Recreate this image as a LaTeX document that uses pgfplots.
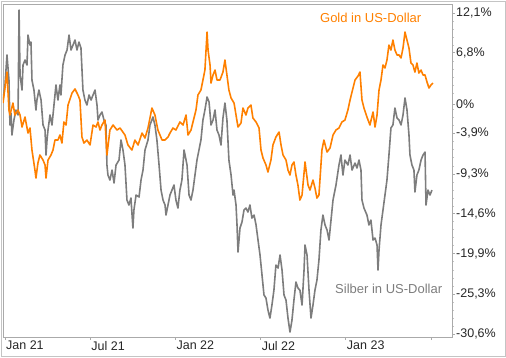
\documentclass[border=0pt]{standalone}
\usepackage{pgfplots}
\pgfplotsset{compat=1.18}
\usepackage{fontspec}
\setmainfont{Liberation Sans}
\definecolor{goldc}{RGB}{255,128,0}
\definecolor{silverc}{RGB}{125,125,125}
\definecolor{framec}{RGB}{170,170,170}
\begin{document}
\begin{tikzpicture}
\useasboundingbox (0,0) rectangle (506pt,357pt);
\draw[framec!70, line width=0.8pt] (1pt,1pt) rectangle (505pt,356pt);
\begin{axis}[
  at={(3pt,20pt)}, anchor=south west,
  scale only axis, width=449pt, height=333pt,
  xmin=-0.14, xmax=31.48, ymin=-30.98, ymax=13.30,
  axis line style={framec, line width=0.8pt},
  xtick={0,6,12,18,24,30},
  xticklabels={Jan 21,Jul 21,Jan 22,Jul 22,Jan 23,{}},
  xtick pos=bottom, ytick pos=right, yticklabel pos=right,
  tick align=outside,
  major tick length=3pt, minor tick length=2pt,
  tick style={framec, line width=0.8pt},
  minor tick style={framec!70, line width=0.6pt},
  ytick={12.1,6.8,0,-3.9,-9.3,-14.6,-19.9,-25.3,-30.6},
  yticklabels={{12,1\%},{6,8\%},{0\%},{-3,9\%},{-9,3\%},{-14,6\%},{-19,9\%},{-25,3\%},{-30,6\%}},
  minor ytick={-29.54,-28.48,-27.42,-26.36,-24.22,-23.14,-22.06,-20.98,-18.84,-17.78,-16.72,-15.66,-13.54,-12.48,-11.42,-10.36,-8.22,-7.14,-6.06,-4.98,-2.84,-1.78,-0.72,1.4,2.46,3.52,4.58,5.64,7.86,8.92,9.98,11.04},
  ticklabel style={font=\fontsize{12.5}{14}\selectfont, text=black!85},
  yticklabel style={anchor=west, inner sep=1pt},
  xticklabel style={anchor=north west, inner sep=1pt, xshift=0pt},
  clip=true,
]
\addplot[silverc, line width=1.6pt, line join=round] coordinates {
(-0.14,0.53) (0.00,2.53) (0.14,6.52) (0.28,3.19) (0.35,-2.79) (0.42,-1.20) (0.49,-4.12) (0.63,-2.13) (0.77,-0.80) (0.92,-1.46)
(0.99,12.50) (1.06,3.86) (1.20,1.86) (1.27,5.19) (1.41,5.85) (1.55,5.19) (1.62,9.17) (1.76,7.84) (1.83,8.24) (1.90,3.19)
(2.04,1.86) (2.18,-0.80) (2.25,0.53) (2.39,1.86) (2.54,0.53) (2.68,-2.79) (2.82,-3.46) (2.89,-6.78) (2.96,-4.79) (3.03,-3.46)
(3.17,-1.46) (3.31,-2.79) (3.45,-0.13) (3.59,2.53) (3.73,0.53) (3.87,2.53) (3.94,1.20) (4.08,5.19) (4.23,6.52) (4.37,7.18)
(4.51,9.17) (4.65,7.18) (4.79,7.84) (4.93,8.51) (5.07,7.18) (5.21,8.24) (5.35,7.45) (5.49,1.86) (5.63,0.53) (5.77,-0.13)
(5.92,1.20) (6.06,0.53) (6.20,1.20) (6.34,1.86) (6.48,-0.13) (6.55,-2.13) (6.69,-1.46) (6.83,-1.06) (6.97,-2.13) (7.11,-2.79)
(7.18,-8.11) (7.25,-9.44) (7.39,-10.11) (7.54,-8.78) (7.68,-10.50) (7.82,-8.11) (8.03,-7.45) (8.17,-4.79) (8.31,-6.12) (8.45,-8.11)
(8.59,-12.77) (8.73,-13.43) (8.87,-12.50) (9.01,-16.49) (9.08,-14.10) (9.23,-12.10) (9.44,-12.37) (9.58,-10.11) (9.72,-8.78) (9.86,-6.12)
(10.07,-4.79) (10.21,-2.79) (10.42,-1.73) (10.56,-2.79) (10.70,-4.79) (10.85,-8.11) (10.99,-11.44) (11.13,-12.77) (11.27,-13.43) (11.34,-14.76)
(11.48,-13.43) (11.62,-12.10) (11.76,-11.44) (11.90,-10.77) (12.04,-12.77) (12.18,-13.83) (12.32,-11.44) (12.46,-10.11) (12.61,-6.12) (12.68,-6.78)
(12.82,-8.11) (12.96,-12.10) (13.10,-12.77) (13.24,-11.44) (13.38,-9.44) (13.52,-7.45) (13.66,-6.12) (13.80,-4.79) (13.94,-2.13) (14.08,-0.80)
(14.23,0.93) (14.37,0.27) (14.51,-2.79) (14.65,-2.13) (14.79,-0.80) (14.93,-3.46) (15.07,-4.12) (15.21,-5.45) (15.35,-1.86) (15.49,0.13)
(15.63,-2.13) (15.77,-7.45) (15.92,-9.44) (16.06,-12.10) (16.13,-11.44) (16.27,-13.43) (16.34,-16.09) (16.41,-19.68) (16.55,-16.49) (16.69,-15.69)
(16.83,-14.10) (16.97,-13.83) (17.11,-14.36) (17.25,-13.43) (17.39,-15.16) (17.54,-14.76) (17.68,-16.09) (17.82,-18.09) (17.96,-20.08) (18.10,-22.74)
(18.24,-25.40) (18.38,-25.80) (18.52,-27.40) (18.66,-28.46) (18.80,-26.73) (18.94,-24.74) (19.08,-21.41) (19.23,-21.81) (19.37,-20.08) (19.51,-22.08)
(19.65,-25.40) (19.79,-26.07) (19.93,-28.46) (20.07,-30.32) (20.21,-28.73) (20.35,-26.07) (20.49,-23.67) (20.63,-24.47) (20.77,-24.74) (20.92,-26.73)
(21.06,-22.08) (21.13,-18.75) (21.27,-20.08) (21.41,-24.74) (21.55,-28.46) (21.69,-26.73) (21.83,-24.74) (21.97,-23.41) (22.11,-20.75) (22.25,-16.76)
(22.39,-14.76) (22.54,-16.09) (22.68,-16.76) (22.82,-18.09) (23.10,-12.77) (23.31,-10.77) (23.52,-8.11) (23.66,-6.78) (23.80,-9.44) (23.94,-7.45)
(24.15,-8.11) (24.30,-6.78) (24.44,-8.78) (24.65,-7.85) (24.79,-8.51) (24.93,-7.45) (25.07,-8.78) (25.14,-12.77) (25.28,-13.83) (25.49,-14.76)
(25.63,-16.09) (25.77,-15.43) (25.92,-18.09) (26.06,-17.82) (26.20,-18.75) (26.27,-22.08) (26.34,-19.42) (26.48,-16.09) (26.62,-14.10) (26.76,-12.10)
(26.90,-10.11) (27.04,-6.78) (27.18,-3.19) (27.32,-2.79) (27.46,-0.53) (27.61,-1.86) (27.75,-2.13) (27.89,-2.79) (28.03,-1.46) (28.17,0.80)
(28.31,-0.80) (28.45,-4.12) (28.52,-6.78) (28.66,-8.11) (28.80,-8.78) (28.87,-11.70) (29.01,-9.44) (29.15,-8.78) (29.30,-7.45) (29.44,-6.78)
(29.58,-6.39) (29.65,-13.43) (29.79,-11.44) (29.93,-12.10) (30.07,-11.44)
};
\addplot[goldc, line width=1.6pt, line join=round] coordinates {
(-0.14,0.13) (0.14,4.25) (0.28,-0.80) (0.35,-1.46) (0.56,0.13) (0.70,-1.46) (0.92,-0.80) (1.06,-1.46) (1.20,-3.06) (1.41,-1.73)
(1.62,-3.86) (1.76,-3.19) (1.90,-6.12) (2.11,-8.78) (2.18,-9.84) (2.32,-7.85) (2.46,-6.78) (2.68,-7.45) (2.82,-8.11) (2.89,-9.84)
(3.03,-7.45) (3.24,-6.78) (3.38,-6.12) (3.52,-4.79) (3.73,-4.79) (3.87,-4.12) (4.01,-5.19) (4.15,-2.39) (4.30,-2.79) (4.44,-0.13)
(4.72,1.46) (4.93,2.00) (5.14,1.20) (5.28,0.53) (5.42,-4.39) (5.56,-5.19) (5.77,-4.79) (5.99,-5.45) (6.20,-2.79) (6.41,-3.06)
(6.55,-2.39) (6.69,-3.46) (6.83,-2.79) (7.04,-2.13) (7.18,-6.78) (7.39,-3.46) (7.61,-2.79) (7.89,-3.46) (8.10,-3.19) (8.45,-4.12)
(8.66,-5.45) (8.94,-6.12) (9.15,-4.79) (9.37,-5.45) (9.65,-3.86) (9.86,-4.52) (10.07,-3.19) (10.35,-0.53) (10.56,-1.46) (10.77,-3.46)
(11.06,-4.79) (11.27,-4.79) (11.48,-4.39) (11.62,-3.86) (11.83,-3.19) (12.04,-3.46) (12.32,-2.39) (12.54,-2.79) (12.75,-1.46) (12.89,-4.12)
(13.10,-3.46) (13.31,-1.86) (13.45,-0.80) (13.59,1.20) (13.80,1.86) (13.94,3.19) (14.08,4.52) (14.23,9.57) (14.30,7.18) (14.44,5.19)
(14.51,2.79) (14.65,3.86) (14.79,4.52) (14.93,3.19) (15.14,3.19) (15.35,4.25) (15.49,5.85) (15.63,3.86) (15.77,1.86) (15.92,0.80)
(16.13,0.13) (16.27,-1.46) (16.41,-3.06) (16.62,-2.53) (16.76,-0.53) (16.97,-1.46) (17.11,-0.53) (17.32,-0.13) (17.46,-1.86) (17.68,-2.39)
(17.89,-3.19) (18.03,-6.12) (18.17,-7.18) (18.38,-8.11) (18.52,-9.04) (18.73,-7.45) (18.87,-5.45) (19.08,-4.39) (19.30,-3.72) (19.44,-5.45)
(19.58,-6.78) (19.79,-7.45) (19.93,-8.78) (20.07,-9.44) (20.21,-8.11) (20.35,-7.71) (20.49,-9.44) (20.63,-10.77) (20.77,-12.77) (20.92,-12.10)
(21.13,-7.71) (21.34,-10.77) (21.48,-11.44) (21.69,-10.11) (21.83,-11.17) (21.97,-12.50) (22.11,-12.10) (22.32,-6.12) (22.46,-4.79) (22.68,-6.39)
(22.89,-5.85) (23.10,-4.12) (23.31,-3.46) (23.52,-3.19) (23.73,-2.39) (23.94,-2.13) (24.15,-0.80) (24.30,0.53) (24.51,2.13) (24.65,3.19)
(24.86,3.72) (25.00,4.25) (25.14,0.53) (25.28,-0.53) (25.49,-1.73) (25.70,-2.79) (25.92,-1.06) (26.06,-3.06) (26.20,-1.46) (26.34,1.86)
(26.48,3.19) (26.62,5.19) (26.76,4.79) (26.90,5.85) (27.04,7.84) (27.18,7.18) (27.32,8.51) (27.46,7.18) (27.61,6.52) (27.75,6.52)
(27.89,6.12) (28.03,7.45) (28.17,9.57) (28.31,8.51) (28.45,7.45) (28.59,5.45) (28.73,5.19) (28.87,4.25) (29.01,5.45) (29.15,4.12)
(29.30,4.52) (29.44,3.86) (29.58,3.86) (29.72,2.92) (29.86,2.13) (30.00,2.53) (30.14,2.79)
};
\node[anchor=west, inner sep=0pt, text=goldc, font=\fontsize{13}{15}\selectfont] at (axis cs:22.18,11.43) {Gold in US-Dollar};
\node[anchor=west, inner sep=0pt, text=silverc, font=\fontsize{13}{15}\selectfont] at (axis cs:23.24,-24.60) {Silber in US-Dollar};
\end{axis}
\end{tikzpicture}
\end{document}
